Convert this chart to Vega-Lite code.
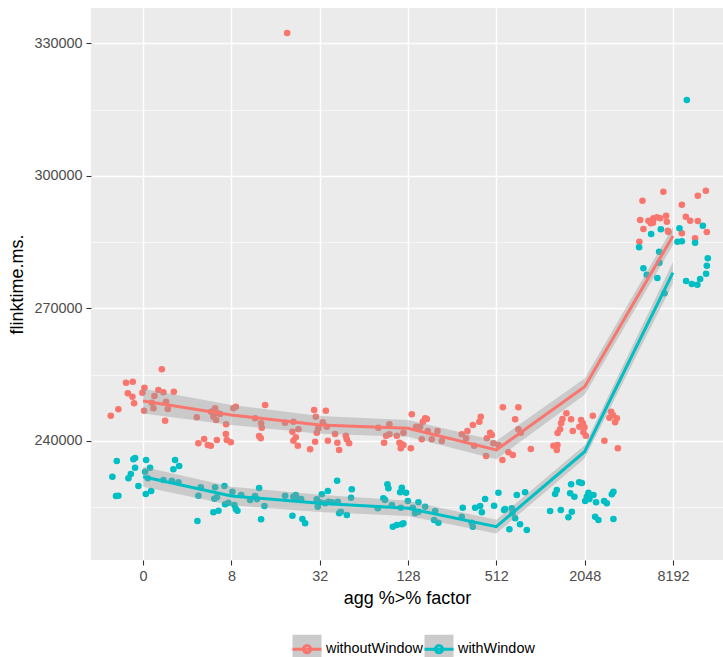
{
  "$schema": "https://vega.github.io/schema/vega-lite/v6.json",
  "width": 632,
  "height": 552,
  "autosize": {"type": "none"},
  "padding": {"left": 91, "top": 8, "right": 0, "bottom": 97},
  "background": "white",
  "datasets": {
    "pts": [
      {"x": 1.212, "y": 256188, "g": "withoutWindow"},
      {"x": 0.807, "y": 253154, "g": "withoutWindow"},
      {"x": 0.883, "y": 253380, "g": "withoutWindow"},
      {"x": 0.827, "y": 250754, "g": "withoutWindow"},
      {"x": 0.879, "y": 249984, "g": "withoutWindow"},
      {"x": 0.898, "y": 248490, "g": "withoutWindow"},
      {"x": 0.72, "y": 247132, "g": "withoutWindow"},
      {"x": 0.634, "y": 245683, "g": "withoutWindow"},
      {"x": 1.015, "y": 252022, "g": "withoutWindow"},
      {"x": 0.992, "y": 250890, "g": "withoutWindow"},
      {"x": 1.011, "y": 246815, "g": "withoutWindow"},
      {"x": 1.128, "y": 250143, "g": "withoutWindow"},
      {"x": 1.173, "y": 251501, "g": "withoutWindow"},
      {"x": 1.23, "y": 250980, "g": "withoutWindow"},
      {"x": 1.348, "y": 251116, "g": "withoutWindow"},
      {"x": 1.26, "y": 248852, "g": "withoutWindow"},
      {"x": 1.117, "y": 247358, "g": "withoutWindow"},
      {"x": 1.28, "y": 247200, "g": "withoutWindow"},
      {"x": 1.249, "y": 244551, "g": "withoutWindow"},
      {"x": 1.099, "y": 248626, "g": "withoutWindow"},
      {"x": 1.608, "y": 245320, "g": "withoutWindow"},
      {"x": 1.626, "y": 239434, "g": "withoutWindow"},
      {"x": 1.77, "y": 246588, "g": "withoutWindow"},
      {"x": 1.815, "y": 247358, "g": "withoutWindow"},
      {"x": 1.835, "y": 246362, "g": "withoutWindow"},
      {"x": 1.872, "y": 246068, "g": "withoutWindow"},
      {"x": 1.796, "y": 245456, "g": "withoutWindow"},
      {"x": 1.827, "y": 244709, "g": "withoutWindow"},
      {"x": 2.023, "y": 247358, "g": "withoutWindow"},
      {"x": 2.05, "y": 247720, "g": "withoutWindow"},
      {"x": 2.382, "y": 248105, "g": "withoutWindow"},
      {"x": 1.94, "y": 243736, "g": "withoutWindow"},
      {"x": 1.937, "y": 241540, "g": "withoutWindow"},
      {"x": 1.948, "y": 240181, "g": "withoutWindow"},
      {"x": 1.993, "y": 239660, "g": "withoutWindow"},
      {"x": 1.835, "y": 240181, "g": "withoutWindow"},
      {"x": 1.691, "y": 240408, "g": "withoutWindow"},
      {"x": 1.733, "y": 239049, "g": "withoutWindow"},
      {"x": 1.767, "y": 238891, "g": "withoutWindow"},
      {"x": 2.268, "y": 245094, "g": "withoutWindow"},
      {"x": 2.336, "y": 243962, "g": "withoutWindow"},
      {"x": 2.344, "y": 242966, "g": "withoutWindow"},
      {"x": 2.314, "y": 241087, "g": "withoutWindow"},
      {"x": 2.333, "y": 240566, "g": "withoutWindow"},
      {"x": 2.608, "y": 244098, "g": "withoutWindow"},
      {"x": 2.702, "y": 244324, "g": "withoutWindow"},
      {"x": 2.937, "y": 246973, "g": "withoutWindow"},
      {"x": 3.069, "y": 246815, "g": "withoutWindow"},
      {"x": 2.956, "y": 245456, "g": "withoutWindow"},
      {"x": 3.035, "y": 244188, "g": "withoutWindow"},
      {"x": 3.08, "y": 243192, "g": "withoutWindow"},
      {"x": 2.985, "y": 242830, "g": "withoutWindow"},
      {"x": 2.967, "y": 241834, "g": "withoutWindow"},
      {"x": 2.759, "y": 242604, "g": "withoutWindow"},
      {"x": 2.691, "y": 242060, "g": "withoutWindow"},
      {"x": 2.729, "y": 240792, "g": "withoutWindow"},
      {"x": 2.702, "y": 240023, "g": "withoutWindow"},
      {"x": 2.752, "y": 238891, "g": "withoutWindow"},
      {"x": 2.948, "y": 239796, "g": "withoutWindow"},
      {"x": 2.891, "y": 238076, "g": "withoutWindow"},
      {"x": 3.092, "y": 240023, "g": "withoutWindow"},
      {"x": 3.174, "y": 241540, "g": "withoutWindow"},
      {"x": 3.296, "y": 241155, "g": "withoutWindow"},
      {"x": 3.307, "y": 240340, "g": "withoutWindow"},
      {"x": 3.333, "y": 239434, "g": "withoutWindow"},
      {"x": 3.2, "y": 239570, "g": "withoutWindow"},
      {"x": 3.22, "y": 237917, "g": "withoutWindow"},
      {"x": 2.631, "y": 332326, "g": "withoutWindow"},
      {"x": 4.043, "y": 246000, "g": "withoutWindow"},
      {"x": 4.194, "y": 245094, "g": "withoutWindow"},
      {"x": 4.213, "y": 244936, "g": "withoutWindow"},
      {"x": 4.168, "y": 244324, "g": "withoutWindow"},
      {"x": 4.137, "y": 243192, "g": "withoutWindow"},
      {"x": 4.092, "y": 243192, "g": "withoutWindow"},
      {"x": 3.789, "y": 243736, "g": "withoutWindow"},
      {"x": 3.665, "y": 242966, "g": "withoutWindow"},
      {"x": 3.873, "y": 241155, "g": "withoutWindow"},
      {"x": 3.789, "y": 241472, "g": "withoutWindow"},
      {"x": 3.752, "y": 241155, "g": "withoutWindow"},
      {"x": 3.948, "y": 241834, "g": "withoutWindow"},
      {"x": 3.729, "y": 239570, "g": "withoutWindow"},
      {"x": 3.903, "y": 239570, "g": "withoutWindow"},
      {"x": 3.93, "y": 239208, "g": "withoutWindow"},
      {"x": 3.948, "y": 239049, "g": "withoutWindow"},
      {"x": 3.918, "y": 238302, "g": "withoutWindow"},
      {"x": 4.032, "y": 238302, "g": "withoutWindow"},
      {"x": 4.224, "y": 242219, "g": "withoutWindow"},
      {"x": 4.333, "y": 242219, "g": "withoutWindow"},
      {"x": 4.156, "y": 240340, "g": "withoutWindow"},
      {"x": 4.269, "y": 240340, "g": "withoutWindow"},
      {"x": 4.383, "y": 239955, "g": "withoutWindow"},
      {"x": 4.609, "y": 241472, "g": "withoutWindow"},
      {"x": 4.658, "y": 240566, "g": "withoutWindow"},
      {"x": 4.673, "y": 242219, "g": "withoutWindow"},
      {"x": 5.074, "y": 247584, "g": "withoutWindow"},
      {"x": 5.25, "y": 247584, "g": "withoutWindow"},
      {"x": 4.824, "y": 245456, "g": "withoutWindow"},
      {"x": 4.808, "y": 244324, "g": "withoutWindow"},
      {"x": 4.734, "y": 243577, "g": "withoutWindow"},
      {"x": 5.213, "y": 244868, "g": "withoutWindow"},
      {"x": 4.93, "y": 241834, "g": "withoutWindow"},
      {"x": 4.949, "y": 241313, "g": "withoutWindow"},
      {"x": 4.892, "y": 240566, "g": "withoutWindow"},
      {"x": 5.25, "y": 242604, "g": "withoutWindow"},
      {"x": 5.277, "y": 241834, "g": "withoutWindow"},
      {"x": 4.967, "y": 239434, "g": "withoutWindow"},
      {"x": 5.024, "y": 239049, "g": "withoutWindow"},
      {"x": 4.749, "y": 238891, "g": "withoutWindow"},
      {"x": 4.884, "y": 236559, "g": "withoutWindow"},
      {"x": 5.137, "y": 237396, "g": "withoutWindow"},
      {"x": 5.187, "y": 236785, "g": "withoutWindow"},
      {"x": 5.069, "y": 235653, "g": "withoutWindow"},
      {"x": 5.391, "y": 238144, "g": "withoutWindow"},
      {"x": 5.794, "y": 246226, "g": "withoutWindow"},
      {"x": 5.749, "y": 244936, "g": "withoutWindow"},
      {"x": 5.847, "y": 244868, "g": "withoutWindow"},
      {"x": 5.734, "y": 243962, "g": "withoutWindow"},
      {"x": 5.96, "y": 244709, "g": "withoutWindow"},
      {"x": 5.98, "y": 243962, "g": "withoutWindow"},
      {"x": 5.941, "y": 243192, "g": "withoutWindow"},
      {"x": 5.998, "y": 243056, "g": "withoutWindow"},
      {"x": 5.866, "y": 242219, "g": "withoutWindow"},
      {"x": 5.722, "y": 242604, "g": "withoutWindow"},
      {"x": 5.694, "y": 241766, "g": "withoutWindow"},
      {"x": 5.986, "y": 241924, "g": "withoutWindow"},
      {"x": 6.014, "y": 241155, "g": "withoutWindow"},
      {"x": 6.093, "y": 245683, "g": "withoutWindow"},
      {"x": 6.3, "y": 246588, "g": "withoutWindow"},
      {"x": 6.319, "y": 245841, "g": "withoutWindow"},
      {"x": 6.281, "y": 245230, "g": "withoutWindow"},
      {"x": 6.365, "y": 245094, "g": "withoutWindow"},
      {"x": 6.345, "y": 244188, "g": "withoutWindow"},
      {"x": 6.224, "y": 240023, "g": "withoutWindow"},
      {"x": 6.376, "y": 238302, "g": "withoutWindow"},
      {"x": 5.647, "y": 238891, "g": "withoutWindow"},
      {"x": 5.692, "y": 239049, "g": "withoutWindow"},
      {"x": 5.685, "y": 237917, "g": "withoutWindow"},
      {"x": 6.655, "y": 294359, "g": "withoutWindow"},
      {"x": 6.892, "y": 296396, "g": "withoutWindow"},
      {"x": 7.282, "y": 295491, "g": "withoutWindow"},
      {"x": 7.373, "y": 296623, "g": "withoutWindow"},
      {"x": 7.101, "y": 293453, "g": "withoutWindow"},
      {"x": 6.629, "y": 289989, "g": "withoutWindow"},
      {"x": 6.723, "y": 289831, "g": "withoutWindow"},
      {"x": 6.779, "y": 290374, "g": "withoutWindow"},
      {"x": 6.818, "y": 290600, "g": "withoutWindow"},
      {"x": 6.855, "y": 290374, "g": "withoutWindow"},
      {"x": 6.923, "y": 290963, "g": "withoutWindow"},
      {"x": 6.931, "y": 289604, "g": "withoutWindow"},
      {"x": 6.75, "y": 289242, "g": "withoutWindow"},
      {"x": 6.773, "y": 289378, "g": "withoutWindow"},
      {"x": 6.666, "y": 287952, "g": "withoutWindow"},
      {"x": 7.146, "y": 290736, "g": "withoutWindow"},
      {"x": 7.195, "y": 289831, "g": "withoutWindow"},
      {"x": 7.282, "y": 289763, "g": "withoutWindow"},
      {"x": 6.942, "y": 287567, "g": "withoutWindow"},
      {"x": 6.949, "y": 287272, "g": "withoutWindow"},
      {"x": 7.101, "y": 286978, "g": "withoutWindow"},
      {"x": 7.251, "y": 285846, "g": "withoutWindow"},
      {"x": 7.384, "y": 287272, "g": "withoutWindow"},
      {"x": 6.62, "y": 285076, "g": "withoutWindow"},
      {"x": 0.702, "y": 235427, "g": "withWindow"},
      {"x": 0.652, "y": 231872, "g": "withWindow"},
      {"x": 0.694, "y": 227503, "g": "withWindow"},
      {"x": 0.72, "y": 227571, "g": "withWindow"},
      {"x": 0.834, "y": 231510, "g": "withWindow"},
      {"x": 0.861, "y": 232484, "g": "withWindow"},
      {"x": 0.909, "y": 233910, "g": "withWindow"},
      {"x": 0.89, "y": 235812, "g": "withWindow"},
      {"x": 0.909, "y": 236106, "g": "withWindow"},
      {"x": 0.947, "y": 229767, "g": "withWindow"},
      {"x": 1.034, "y": 235653, "g": "withWindow"},
      {"x": 1.079, "y": 233910, "g": "withWindow"},
      {"x": 1.023, "y": 233004, "g": "withWindow"},
      {"x": 1.053, "y": 231510, "g": "withWindow"},
      {"x": 1.031, "y": 227956, "g": "withWindow"},
      {"x": 1.091, "y": 228635, "g": "withWindow"},
      {"x": 1.362, "y": 235653, "g": "withWindow"},
      {"x": 1.408, "y": 234295, "g": "withWindow"},
      {"x": 1.343, "y": 233548, "g": "withWindow"},
      {"x": 1.23, "y": 231125, "g": "withWindow"},
      {"x": 1.325, "y": 230967, "g": "withWindow"},
      {"x": 1.4, "y": 230604, "g": "withWindow"},
      {"x": 1.626, "y": 227571, "g": "withWindow"},
      {"x": 1.615, "y": 221843, "g": "withWindow"},
      {"x": 1.653, "y": 229472, "g": "withWindow"},
      {"x": 1.815, "y": 229472, "g": "withWindow"},
      {"x": 1.921, "y": 229767, "g": "withWindow"},
      {"x": 2.011, "y": 228476, "g": "withWindow"},
      {"x": 1.807, "y": 226891, "g": "withWindow"},
      {"x": 1.835, "y": 227208, "g": "withWindow"},
      {"x": 1.929, "y": 225624, "g": "withWindow"},
      {"x": 1.966, "y": 225986, "g": "withWindow"},
      {"x": 2.034, "y": 225465, "g": "withWindow"},
      {"x": 2.05, "y": 224560, "g": "withWindow"},
      {"x": 2.068, "y": 224175, "g": "withWindow"},
      {"x": 1.796, "y": 223812, "g": "withWindow"},
      {"x": 1.853, "y": 224175, "g": "withWindow"},
      {"x": 2.11, "y": 227729, "g": "withWindow"},
      {"x": 2.212, "y": 226597, "g": "withWindow"},
      {"x": 2.268, "y": 227503, "g": "withWindow"},
      {"x": 2.288, "y": 226756, "g": "withWindow"},
      {"x": 2.314, "y": 229314, "g": "withWindow"},
      {"x": 2.374, "y": 225239, "g": "withWindow"},
      {"x": 2.336, "y": 222228, "g": "withWindow"},
      {"x": 2.608, "y": 227571, "g": "withWindow"},
      {"x": 2.702, "y": 227344, "g": "withWindow"},
      {"x": 2.729, "y": 227729, "g": "withWindow"},
      {"x": 2.789, "y": 226824, "g": "withWindow"},
      {"x": 2.741, "y": 226982, "g": "withWindow"},
      {"x": 3.024, "y": 227888, "g": "withWindow"},
      {"x": 3.092, "y": 228635, "g": "withWindow"},
      {"x": 3.197, "y": 230967, "g": "withWindow"},
      {"x": 3.363, "y": 229020, "g": "withWindow"},
      {"x": 3.355, "y": 227118, "g": "withWindow"},
      {"x": 2.967, "y": 226756, "g": "withWindow"},
      {"x": 3.004, "y": 226076, "g": "withWindow"},
      {"x": 3.098, "y": 226212, "g": "withWindow"},
      {"x": 3.137, "y": 226076, "g": "withWindow"},
      {"x": 3.205, "y": 226212, "g": "withWindow"},
      {"x": 2.978, "y": 225080, "g": "withWindow"},
      {"x": 3.061, "y": 225850, "g": "withWindow"},
      {"x": 3.22, "y": 223586, "g": "withWindow"},
      {"x": 3.239, "y": 223948, "g": "withWindow"},
      {"x": 3.307, "y": 223201, "g": "withWindow"},
      {"x": 2.691, "y": 223043, "g": "withWindow"},
      {"x": 2.804, "y": 222296, "g": "withWindow"},
      {"x": 2.835, "y": 221322, "g": "withWindow"},
      {"x": 3.767, "y": 230152, "g": "withWindow"},
      {"x": 3.778, "y": 229246, "g": "withWindow"},
      {"x": 3.93, "y": 229382, "g": "withWindow"},
      {"x": 3.911, "y": 228340, "g": "withWindow"},
      {"x": 3.978, "y": 228250, "g": "withWindow"},
      {"x": 3.721, "y": 226982, "g": "withWindow"},
      {"x": 3.74, "y": 226597, "g": "withWindow"},
      {"x": 3.817, "y": 225465, "g": "withWindow"},
      {"x": 3.918, "y": 224854, "g": "withWindow"},
      {"x": 3.658, "y": 224718, "g": "withWindow"},
      {"x": 3.998, "y": 226371, "g": "withWindow"},
      {"x": 4.118, "y": 226076, "g": "withWindow"},
      {"x": 4.054, "y": 224854, "g": "withWindow"},
      {"x": 4.08, "y": 223586, "g": "withWindow"},
      {"x": 4.118, "y": 223948, "g": "withWindow"},
      {"x": 4.194, "y": 225080, "g": "withWindow"},
      {"x": 4.307, "y": 224107, "g": "withWindow"},
      {"x": 4.295, "y": 222069, "g": "withWindow"},
      {"x": 4.344, "y": 221458, "g": "withWindow"},
      {"x": 3.828, "y": 220552, "g": "withWindow"},
      {"x": 3.873, "y": 220937, "g": "withWindow"},
      {"x": 3.93, "y": 221096, "g": "withWindow"},
      {"x": 3.948, "y": 221322, "g": "withWindow"},
      {"x": 4.62, "y": 224854, "g": "withWindow"},
      {"x": 4.609, "y": 222816, "g": "withWindow"},
      {"x": 5.024, "y": 228250, "g": "withWindow"},
      {"x": 5.232, "y": 227729, "g": "withWindow"},
      {"x": 5.326, "y": 228340, "g": "withWindow"},
      {"x": 4.873, "y": 226824, "g": "withWindow"},
      {"x": 4.975, "y": 225307, "g": "withWindow"},
      {"x": 4.76, "y": 224854, "g": "withWindow"},
      {"x": 4.817, "y": 225239, "g": "withWindow"},
      {"x": 4.836, "y": 223812, "g": "withWindow"},
      {"x": 5.1, "y": 224560, "g": "withWindow"},
      {"x": 5.088, "y": 224333, "g": "withWindow"},
      {"x": 5.176, "y": 224718, "g": "withWindow"},
      {"x": 5.182, "y": 223586, "g": "withWindow"},
      {"x": 5.213, "y": 222454, "g": "withWindow"},
      {"x": 4.722, "y": 221458, "g": "withWindow"},
      {"x": 4.734, "y": 220552, "g": "withWindow"},
      {"x": 5.148, "y": 219964, "g": "withWindow"},
      {"x": 5.269, "y": 221096, "g": "withWindow"},
      {"x": 5.345, "y": 219805, "g": "withWindow"},
      {"x": 5.609, "y": 224107, "g": "withWindow"},
      {"x": 5.685, "y": 228861, "g": "withWindow"},
      {"x": 5.666, "y": 227956, "g": "withWindow"},
      {"x": 5.847, "y": 230152, "g": "withWindow"},
      {"x": 5.938, "y": 230604, "g": "withWindow"},
      {"x": 5.968, "y": 230446, "g": "withWindow"},
      {"x": 5.836, "y": 228114, "g": "withWindow"},
      {"x": 5.884, "y": 227344, "g": "withWindow"},
      {"x": 6.043, "y": 228250, "g": "withWindow"},
      {"x": 6.1, "y": 227729, "g": "withWindow"},
      {"x": 6.025, "y": 227344, "g": "withWindow"},
      {"x": 6.006, "y": 226371, "g": "withWindow"},
      {"x": 6.054, "y": 226824, "g": "withWindow"},
      {"x": 6.13, "y": 226076, "g": "withWindow"},
      {"x": 6.326, "y": 228476, "g": "withWindow"},
      {"x": 6.308, "y": 227888, "g": "withWindow"},
      {"x": 6.221, "y": 226371, "g": "withWindow"},
      {"x": 6.251, "y": 225850, "g": "withWindow"},
      {"x": 5.73, "y": 224333, "g": "withWindow"},
      {"x": 5.855, "y": 223948, "g": "withWindow"},
      {"x": 5.817, "y": 222680, "g": "withWindow"},
      {"x": 6.119, "y": 222816, "g": "withWindow"},
      {"x": 6.156, "y": 222069, "g": "withWindow"},
      {"x": 6.326, "y": 222296, "g": "withWindow"},
      {"x": 7.157, "y": 317157, "g": "withWindow"},
      {"x": 7.074, "y": 288110, "g": "withWindow"},
      {"x": 7.339, "y": 288699, "g": "withWindow"},
      {"x": 6.753, "y": 286820, "g": "withWindow"},
      {"x": 6.863, "y": 287884, "g": "withWindow"},
      {"x": 7.051, "y": 285076, "g": "withWindow"},
      {"x": 7.101, "y": 285167, "g": "withWindow"},
      {"x": 6.617, "y": 283808, "g": "withWindow"},
      {"x": 7.251, "y": 284850, "g": "withWindow"},
      {"x": 6.844, "y": 282812, "g": "withWindow"},
      {"x": 7.395, "y": 281318, "g": "withWindow"},
      {"x": 7.384, "y": 279643, "g": "withWindow"},
      {"x": 7.376, "y": 277831, "g": "withWindow"},
      {"x": 6.666, "y": 279054, "g": "withWindow"},
      {"x": 6.704, "y": 277605, "g": "withWindow"},
      {"x": 6.847, "y": 280322, "g": "withWindow"},
      {"x": 6.824, "y": 276858, "g": "withWindow"},
      {"x": 7.149, "y": 276179, "g": "withWindow"},
      {"x": 7.214, "y": 275500, "g": "withWindow"},
      {"x": 7.277, "y": 275341, "g": "withWindow"},
      {"x": 7.308, "y": 276632, "g": "withWindow"},
      {"x": 6.905, "y": 273394, "g": "withWindow"}
    ],
    "summ": [
      {"x": 1, "m": 249011, "lo": 246200, "hi": 251800, "g": "withoutWindow"},
      {"x": 2, "m": 245841, "lo": 243600, "hi": 248100, "g": "withoutWindow"},
      {"x": 3, "m": 243577, "lo": 241600, "hi": 245600, "g": "withoutWindow"},
      {"x": 4, "m": 242830, "lo": 240900, "hi": 244700, "g": "withoutWindow"},
      {"x": 5, "m": 237917, "lo": 235800, "hi": 240000, "g": "withoutWindow"},
      {"x": 6, "m": 252248, "lo": 250400, "hi": 254100, "g": "withoutWindow"},
      {"x": 7, "m": 286367, "lo": 284300, "hi": 288400, "g": "withoutWindow"},
      {"x": 1, "m": 231872, "lo": 229600, "hi": 234100, "g": "withWindow"},
      {"x": 2, "m": 227503, "lo": 225400, "hi": 229600, "g": "withWindow"},
      {"x": 3, "m": 225850, "lo": 223900, "hi": 227800, "g": "withWindow"},
      {"x": 4, "m": 224718, "lo": 223000, "hi": 226400, "g": "withWindow"},
      {"x": 5, "m": 220552, "lo": 219000, "hi": 222100, "g": "withWindow"},
      {"x": 6, "m": 237532, "lo": 236000, "hi": 239000, "g": "withWindow"},
      {"x": 7, "m": 278058, "lo": 275600, "hi": 280500, "g": "withWindow"}
    ]
  },
  "layer": [
    {
      "data": {"name": "pts"},
      "mark": {"type": "point", "filled": true, "opacity": 1, "size": 44},
      "encoding": {
        "x": {
          "field": "x", "type": "quantitative",
          "scale": {"domain": [0.41, 7.567], "nice": false, "zero": false},
          "axis": {
            "title": "agg %>% factor",
            "values": [1, 2, 3, 4, 5, 6, 7],
            "labelExpr": "['0','8','32','128','512','2048','8192'][datum.value - 1]",
            "gridWidth": 1.4,
            "tickSize": 5,
            "labelPadding": 4,
            "titlePadding": 7
          }
        },
        "y": {
          "field": "y", "type": "quantitative",
          "scale": {"domain": [213013, 337986], "nice": false, "zero": false},
          "axis": {
            "title": "flinktime.ms.",
            "values": [225000, 240000, 255000, 270000, 285000, 300000, 315000, 330000],
            "format": "d",
            "labelExpr": "datum.value % 30000 === 0 ? datum.label : ''",
            "gridWidth": {"condition": {"test": "datum.value % 30000 === 0", "value": 1.4}, "value": 0.6},
            "tickOpacity": {"condition": {"test": "datum.value % 30000 === 0", "value": 1}, "value": 0},
            "tickSize": 5,
            "labelPadding": 4,
            "titlePadding": 7
          }
        },
        "color": {
          "field": "g", "type": "nominal",
          "sort": "descending",
          "scale": {"range": ["#F8766D", "#00BFC4"]},
          "legend": null
        }
      }
    },
    {
      "data": {"name": "summ"},
      "mark": {"type": "area", "fillOpacity": 0.4},
      "encoding": {
        "x": {"field": "x", "type": "quantitative"},
        "y": {"field": "lo", "type": "quantitative"},
        "y2": {"field": "hi"},
        "fill": {
          "field": "g", "type": "nominal",
          "scale": {"domain": ["withoutWindow", "withWindow"], "range": ["#999999", "#999999"]},
          "legend": {
            "orient": "none", "legendX": 200, "legendY": 625,
            "direction": "horizontal", "title": null,
            "symbolType": "square", "symbolSize": 841, "symbolOpacity": 0.5,
            "symbolStrokeWidth": 3, "symbolStrokeColor": "transparent",
            "labelOpacity": 0, "labelFontSize": 14.4, "labelFont": "Liberation Sans",
            "labelOffset": 3, "columnPadding": -7, "padding": 0
          }
        }
      }
    },
    {
      "data": {"name": "summ"},
      "mark": {"type": "line", "strokeWidth": 3},
      "encoding": {
        "x": {"field": "x", "type": "quantitative"},
        "y": {"field": "m", "type": "quantitative"},
        "stroke": {
          "field": "g", "type": "nominal",
          "sort": "descending",
          "scale": {"range": ["#F8766D", "#00BFC4"]},
          "legend": {
            "orient": "none", "legendX": 200, "legendY": 625,
            "direction": "horizontal", "title": null,
            "symbolType": "M-1,0H1M0.25,0A0.25,0.25,0,1,1,-0.25,0A0.25,0.25,0,1,1,0.25,0",
            "symbolSize": 841, "symbolStrokeWidth": 3,
            "labelFontSize": 14.4, "labelFont": "Liberation Sans", "labelColor": "black",
            "labelOffset": 3, "columnPadding": -7, "padding": 0
          }
        }
      }
    }
  ],
  "config": {
    "view": {"fill": "#EBEBEB", "stroke": null},
    "axis": {
      "domain": false,
      "grid": true,
      "gridColor": "#FFFFFF",
      "tickColor": "#333333",
      "tickWidth": 1.1,
      "labelColor": "#4D4D4D",
      "labelFont": "Liberation Sans",
      "labelFontSize": 14.4,
      "titleFont": "Liberation Sans",
      "titleFontSize": 18,
      "titleFontWeight": "normal",
      "titleColor": "#000000"
    }
  }
}
